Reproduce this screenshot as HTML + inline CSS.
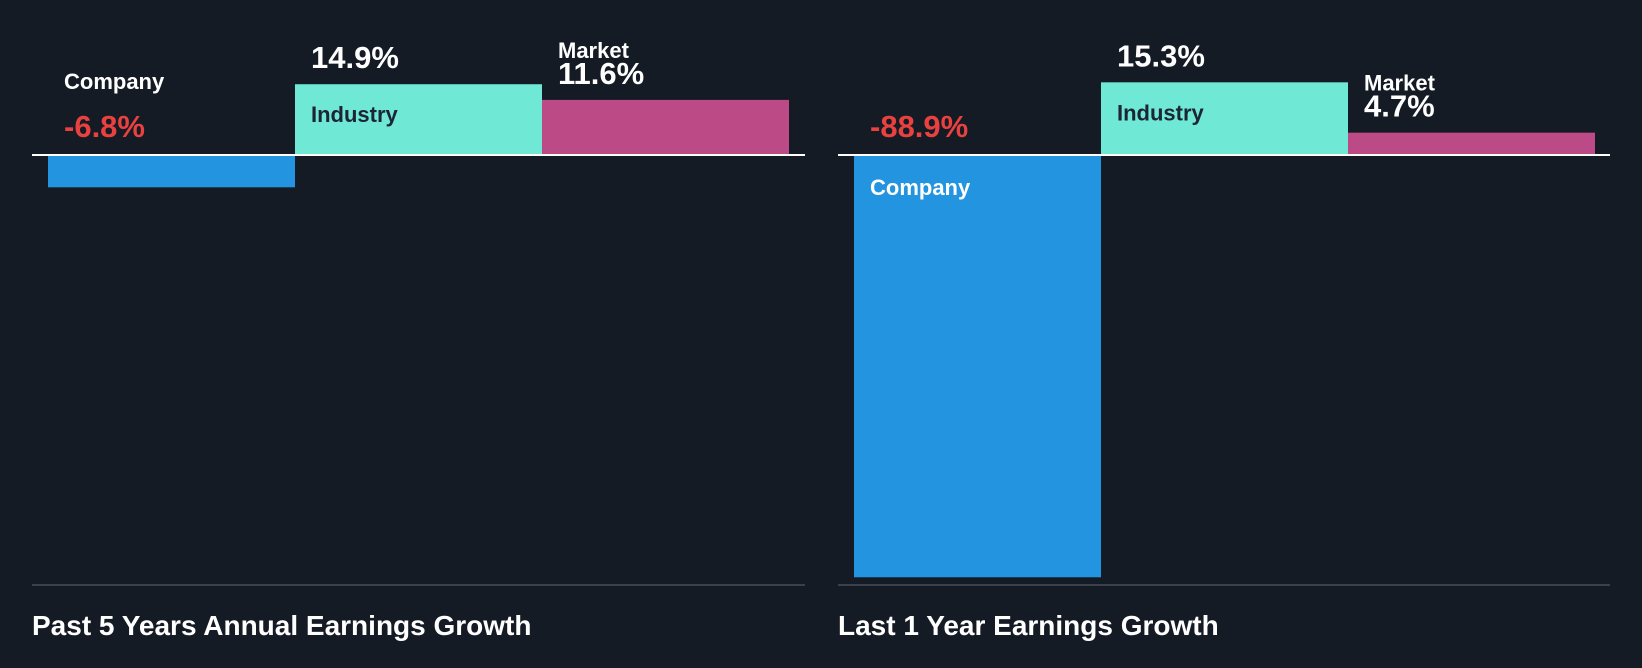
<!DOCTYPE html>
<html><head><meta charset="utf-8"><style>
body{margin:0;background:#151b24;}
svg{display:block;font-family:"Liberation Sans",sans-serif;font-weight:bold;}
</style></head><body>
<svg id="c" width="1642" height="668" viewBox="0 0 1642 668">
<rect width="1642" height="668" fill="#151b24"/>
</svg>
<script>
const categories=["Company","Industry","Market"];
const past5Values=[-6.8,14.9,11.6];
const last1Values=[-88.9,15.3,4.7];
const panelTitles=["Past 5 Years Annual Earnings Growth","Last 1 Year Earnings Growth"];
const svg=document.getElementById('c');
const NS="http://www.w3.org/2000/svg";
const colors=["#2394e0","#6fe8d5","#bb4a86"];
function mk(t,a,p){const e=document.createElementNS(NS,t);for(const k in a)e.setAttribute(k,a[k]);(p||svg).appendChild(e);return e;}
const panels=[{x0:32,x1:805,bx:48,vals:past5Values},{x0:838,x1:1610,bx:854,vals:last1Values}];
const base=155,bw=247,scale=4.75;
function y(v){return base-v*scale;}
panels.forEach((p,pi)=>{
  const g=mk('g',{});
  
  
  p.vals.forEach((v,i)=>{
    const x=p.bx+i*bw;
    const top=Math.min(y(v),base),h=Math.max(Math.abs(v*scale),1);
    const r=mk('rect',{x:x,y:top,width:bw,height:Math.min(h,584-top),fill:colors[i]},g);
    
    
    const valTxt=(v>0?'':'')+v.toFixed(1)+'%';
    let nameY,valY,nameFill='#fff';
    if(v<0){
      valY=base-18;
      if(Math.abs(v*scale)>60){nameY=base+40;}else{nameY=base-66;}
    }else{
      valY=y(v)-16;
      if(i===1){nameY=y(v)+38;nameFill='#1b2533';}else{nameY=y(v)-42;}
    }
    const t1=mk('text',{x:x+16,y:nameY,fill:nameFill,'font-size':22},g);t1.textContent=categories[i];
    
    
    const t2=mk('text',{x:x+16,y:valY,fill:v<0?'#e8413f':'#fff','font-size':31},g);t2.textContent=valTxt;
    
    
  });
  const l=mk('line',{x1:p.x0,x2:p.x1,y1:base,y2:base,stroke:'#fff','stroke-width':2},g);
  
  
  const l2=mk('line',{x1:p.x0,x2:p.x1,y1:585,y2:585,stroke:'#3a414b','stroke-width':2},g);
  
  
  const tt=mk('text',{x:p.x0,y:635,fill:'#fff','font-size':28},g);tt.textContent=panelTitles[pi];
  
  
});
</script>
</body></html>
